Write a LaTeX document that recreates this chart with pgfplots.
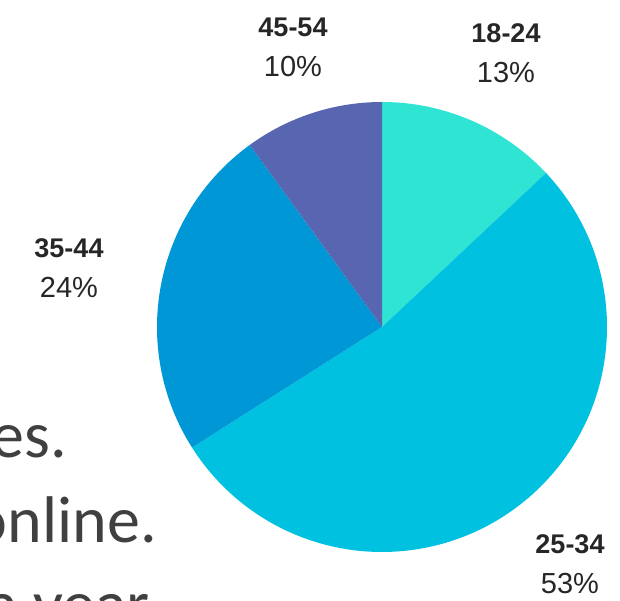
\documentclass[border=0pt]{standalone}
\usepackage{pgfplots}
\usepackage{pgfplotstable}
\pgfplotsset{compat=1.18}
\usepackage{fontspec}
\setmainfont{Liberation Sans}
\newfontfamily\bgfont{Carlito}

\definecolor{slice0}{HTML}{30E4D4}
\definecolor{slice1}{HTML}{00C2E0}
\definecolor{slice2}{HTML}{0097D6}
\definecolor{slice3}{HTML}{5866B2}
\definecolor{bgtext}{HTML}{404040}
\definecolor{labtext}{HTML}{262626}

% age group, share in %, label position
\pgfplotstableread[col sep=comma]{
label,value,lx,ly
18-24,13,506,548
25-34,53,570,37
35-44,24,69,333
45-54,10,293,554
}\agedata

\begin{document}
\begin{tikzpicture}[x=1pt,y=1pt]
\path[use as bounding box] (0,0) rectangle (620,601);
% text of the slide behind the chart
\begin{scope}[inner sep=0pt, text=bgtext, font=\bgfont\fontsize{66}{84}\selectfont]
\node[anchor=base east] at (67,143) {es.};
\node[anchor=base east] at (157,58) {online.};
\node[anchor=base east] at (150,-26) {a year};
\end{scope}
\begin{axis}[
  at={(0,0)}, anchor=south west,
  x=1pt, y=1pt,
  xmin=0, xmax=620, ymin=0, ymax=601,
  hide axis, clip=false,
]
\xdef\startang{90}
\pgfplotsinvokeforeach{0,...,3}{
  \pgfplotstablegetelem{#1}{value}\of\agedata
  \pgfmathsetmacro\endang{\startang-3.6*\pgfplotsretval}
  \xdef\endang{\endang}
  \edef\temp{\noexpand\fill[slice#1] (axis cs:382,274) -- ++(\startang:225pt)
    arc[start angle=\startang, end angle=\endang, radius=225pt] -- cycle;}
  \temp
  \pgfplotstablegetelem{#1}{label}\of\agedata
  \edef\lab{\pgfplotsretval}
  \pgfplotstablegetelem{#1}{value}\of\agedata
  \edef\val{\pgfplotsretval}
  \pgfplotstablegetelem{#1}{lx}\of\agedata
  \edef\lx{\pgfplotsretval}
  \pgfplotstablegetelem{#1}{ly}\of\agedata
  \edef\ly{\pgfplotsretval}
  \edef\temp{\noexpand\node[align=center, text=labtext, inner sep=0pt,
    font=\noexpand\fontsize{27}{40}\noexpand\selectfont]
    at (axis cs:\lx,\ly) {\noexpand\textbf{\lab}\noexpand\\
    {\noexpand\fontsize{29}{40}\noexpand\selectfont\val\noexpand\%}};}
  \temp
  \xdef\startang{\endang}
}
\end{axis}
\end{tikzpicture}
\end{document}
